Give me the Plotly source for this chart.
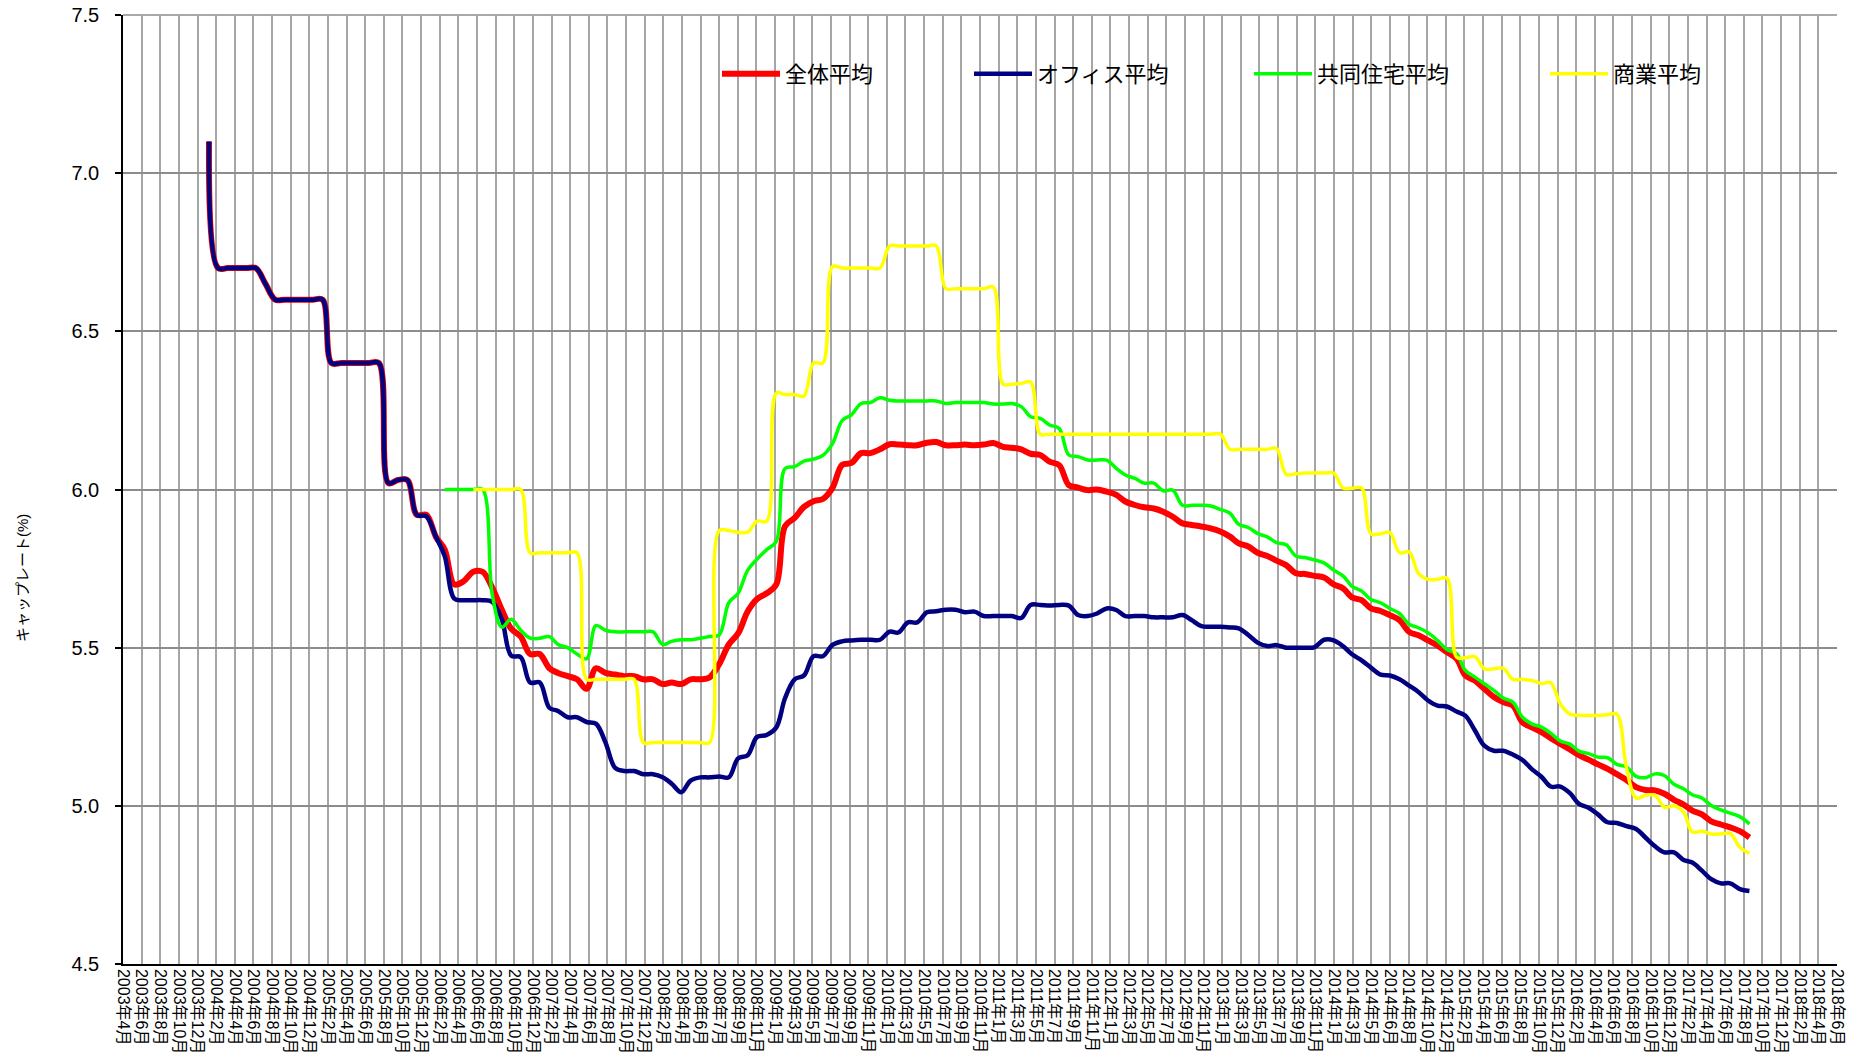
import pandas as pd
import plotly.graph_objects as go

# ---------------- data ----------------
x_labels = [
    "2003年4月", "2003年6月", "2003年8月", "2003年10月", "2003年12月",
    "2004年2月", "2004年4月", "2004年6月", "2004年8月", "2004年10月", "2004年12月",
    "2005年2月", "2005年4月", "2005年6月", "2005年8月", "2005年10月", "2005年12月",
    "2006年2月", "2006年4月", "2006年6月", "2006年8月", "2006年10月", "2006年12月",
    "2007年2月", "2007年4月", "2007年6月", "2007年8月", "2007年10月", "2007年12月",
    "2008年2月", "2008年4月", "2008年6月", "2008年7月", "2008年9月", "2008年11月",
    "2009年1月", "2009年3月", "2009年5月", "2009年7月", "2009年9月", "2009年11月",
    "2010年1月", "2010年3月", "2010年5月", "2010年7月", "2010年9月", "2010年11月",
    "2011年1月", "2011年3月", "2011年5月", "2011年7月", "2011年9月", "2011年11月",
    "2012年1月", "2012年3月", "2012年5月", "2012年7月", "2012年9月", "2012年11月",
    "2013年1月", "2013年3月", "2013年5月", "2013年7月", "2013年9月", "2013年11月",
    "2014年1月", "2014年3月", "2014年5月", "2014年6月", "2014年8月", "2014年10月", "2014年12月",
    "2015年2月", "2015年4月", "2015年6月", "2015年8月", "2015年10月", "2015年12月",
    "2016年2月", "2016年4月", "2016年6月", "2016年8月", "2016年10月", "2016年12月",
    "2017年2月", "2017年4月", "2017年6月", "2017年8月", "2017年10月", "2017年12月",
    "2018年2月", "2018年4月", "2018年6月",
]
axis_start = "2003-04-29"
axis_end = "2018-06-09"
tick_step_days = 60

y_ticks = [4.5, 5.0, 5.5, 6.0, 6.5, 7.0, 7.5]

series_names = ["全体平均", "オフィス平均", "共同住宅平均", "商業平均"]
series_colors = ["#ff0000", "#000080", "#00ff00", "#ffff00"]

# monthly values, 全体平均 from 2004-01
total_start = "2004-01-31"
total_avg = [
    7.10, 6.70, 6.70, 6.70, 6.70, 6.70, 6.65, 6.60, 6.60, 6.60,
    6.60, 6.60, 6.60, 6.40, 6.40, 6.40, 6.40, 6.40, 6.40, 6.02,
    6.03, 6.03, 5.92, 5.92, 5.85, 5.81, 5.70, 5.71, 5.74, 5.74,
    5.69, 5.62, 5.56, 5.535, 5.48, 5.48, 5.435, 5.42, 5.41, 5.40,
    5.37, 5.435, 5.42, 5.415, 5.41, 5.41, 5.40, 5.40, 5.385, 5.39,
    5.385, 5.40, 5.40, 5.406, 5.448, 5.51, 5.545, 5.615, 5.654, 5.672,
    5.70, 5.884, 5.91, 5.945, 5.963, 5.97, 6.005, 6.078, 6.084, 6.115,
    6.115, 6.127, 6.143, 6.142, 6.14, 6.14, 6.148, 6.15, 6.14, 6.14,
    6.142, 6.14, 6.142, 6.147, 6.135, 6.132, 6.127, 6.113, 6.109, 6.088,
    6.077, 6.014, 6.006, 5.998, 6.00, 5.993, 5.983, 5.962, 5.951, 5.944,
    5.94, 5.93, 5.914, 5.893, 5.888, 5.883, 5.877, 5.867, 5.851, 5.83,
    5.82, 5.80, 5.79, 5.775, 5.761, 5.735, 5.733, 5.727, 5.722, 5.70,
    5.687, 5.659, 5.65, 5.624, 5.616, 5.603, 5.587, 5.55, 5.539, 5.523,
    5.507, 5.486, 5.465, 5.412, 5.396, 5.37, 5.344, 5.328, 5.317, 5.264,
    5.248, 5.233, 5.214, 5.196, 5.178, 5.16, 5.146, 5.131, 5.117, 5.10,
    5.082, 5.059, 5.05, 5.049, 5.038, 5.019, 5.004, 4.985, 4.973, 4.951,
    4.941, 4.932, 4.92, 4.90,
]

# オフィス平均 from 2004-01
office_start = "2004-01-31"
office_avg = [
    7.10, 6.70, 6.70, 6.70, 6.70, 6.70, 6.65, 6.60, 6.60, 6.60,
    6.60, 6.60, 6.60, 6.40, 6.40, 6.40, 6.40, 6.40, 6.40, 6.02,
    6.03, 6.03, 5.92, 5.915, 5.85, 5.79, 5.655, 5.65, 5.65, 5.65,
    5.645, 5.59, 5.475, 5.47, 5.39, 5.39, 5.31, 5.30, 5.28, 5.28,
    5.265, 5.26, 5.20, 5.12, 5.11, 5.11, 5.10, 5.10, 5.09, 5.07,
    5.043, 5.08, 5.09, 5.09, 5.093, 5.09, 5.15, 5.16, 5.218, 5.224,
    5.248, 5.34, 5.40, 5.412, 5.473, 5.473, 5.509, 5.52, 5.523, 5.525,
    5.525, 5.525, 5.551, 5.548, 5.58, 5.58, 5.612, 5.615, 5.62, 5.62,
    5.612, 5.614, 5.60, 5.60, 5.60, 5.60, 5.594, 5.635, 5.635, 5.633,
    5.635, 5.633, 5.603, 5.60, 5.608, 5.624, 5.619, 5.60, 5.60, 5.60,
    5.596, 5.596, 5.596, 5.603, 5.587, 5.568, 5.566, 5.566, 5.564, 5.561,
    5.54, 5.516, 5.505, 5.508, 5.50, 5.50, 5.50, 5.502, 5.525, 5.523,
    5.504, 5.479, 5.46, 5.437, 5.415, 5.412, 5.40, 5.38, 5.36, 5.333,
    5.317, 5.314, 5.298, 5.285, 5.238, 5.19, 5.174, 5.174, 5.162, 5.145,
    5.116, 5.092, 5.061, 5.061, 5.04, 5.006, 4.994, 4.973, 4.948, 4.946,
    4.936, 4.927, 4.90, 4.872, 4.853, 4.853, 4.829, 4.821, 4.795, 4.768,
    4.755, 4.755, 4.737, 4.731,
]

# 共同住宅平均 from 2006-02
resi_start = "2006-02-28"
resi_avg = [
    6.00, 6.00, 6.00, 6.00, 6.00, 5.67, 5.565, 5.59, 5.555, 5.53,
    5.53, 5.535, 5.51, 5.50, 5.48, 5.465, 5.57, 5.555, 5.55, 5.55,
    5.55, 5.55, 5.55, 5.51, 5.52, 5.525, 5.525, 5.53, 5.535, 5.54,
    5.642, 5.672, 5.745, 5.78, 5.81, 5.836, 6.066, 6.072, 6.09, 6.096,
    6.108, 6.145, 6.218, 6.236, 6.272, 6.275, 6.29, 6.282, 6.28, 6.28,
    6.28, 6.28, 6.28, 6.272, 6.275, 6.275, 6.275, 6.275, 6.27, 6.27,
    6.272, 6.262, 6.23, 6.225, 6.204, 6.193, 6.109, 6.104, 6.093, 6.093,
    6.093, 6.067, 6.046, 6.035, 6.02, 6.02, 5.996, 5.998, 5.95, 5.95,
    5.95, 5.948, 5.937, 5.925, 5.89, 5.88, 5.861, 5.85, 5.832, 5.825,
    5.79, 5.785, 5.777, 5.768, 5.745, 5.726, 5.694, 5.679, 5.652, 5.642,
    5.624, 5.608, 5.574, 5.563, 5.547, 5.523, 5.494, 5.481, 5.428, 5.407,
    5.386, 5.365, 5.341, 5.328, 5.28, 5.259, 5.249, 5.23, 5.205, 5.195,
    5.173, 5.165, 5.154, 5.152, 5.131, 5.123, 5.093, 5.089, 5.101, 5.096,
    5.068, 5.054, 5.035, 5.025, 5.001, 4.987, 4.977, 4.966, 4.943,
]

# 商業平均 from 2006-05
retail_start = "2006-05-31"
retail_avg = [
    6.00, 6.00, 6.00, 6.00, 6.00, 6.00, 5.80, 5.80, 5.80, 5.80,
    5.80, 5.80, 5.40, 5.40, 5.40, 5.40, 5.40, 5.40, 5.20, 5.20,
    5.20, 5.20, 5.20, 5.20, 5.20, 5.20, 5.87, 5.87, 5.865, 5.865,
    5.90, 5.90, 6.305, 6.30, 6.30, 6.295, 6.40, 6.40, 6.705, 6.70,
    6.70, 6.70, 6.70, 6.70, 6.77, 6.77, 6.77, 6.77, 6.77, 6.77,
    6.635, 6.635, 6.635, 6.635, 6.635, 6.64, 6.333, 6.333, 6.335, 6.34,
    6.175, 6.175, 6.175, 6.175, 6.175, 6.175, 6.175, 6.175, 6.175, 6.175,
    6.175, 6.175, 6.175, 6.175, 6.175, 6.175, 6.175, 6.175, 6.175, 6.175,
    6.127, 6.127, 6.127, 6.127, 6.127, 6.13, 6.048, 6.05, 6.052, 6.052,
    6.052, 6.052, 6.004, 6.004, 6.005, 5.86, 5.86, 5.864, 5.80, 5.803,
    5.735, 5.716, 5.716, 5.72, 5.47, 5.468, 5.472, 5.433, 5.433, 5.435,
    5.40, 5.40, 5.396, 5.387, 5.389, 5.323, 5.29, 5.286, 5.286, 5.286,
    5.288, 5.29, 5.12, 5.025, 5.033, 5.033, 4.996, 5.00, 4.98, 4.917,
    4.92, 4.911, 4.911, 4.913, 4.869, 4.85,
]

series_values = [total_avg, office_avg, resi_avg, retail_avg]
series_starts = [total_start, office_start, resi_start, retail_start]
series_widths = [6, 4.5, 3.5, 3.5]

y_title = "キャップレート(%)"


def month_ends(start, n):
    try:
        rng = pd.date_range(start, periods=n, freq="ME")
    except ValueError:
        rng = pd.date_range(start, periods=n, freq="M")
    return rng.strftime("%Y-%m-%d").tolist()


tick_vals = [
    (pd.Timestamp(axis_start) + pd.Timedelta(days=tick_step_days * k)).strftime("%Y-%m-%d")
    for k in range(len(x_labels))
]

FONT = "Liberation Sans, Arial, Noto Sans CJK JP, sans-serif"

W, H = 1856, 1060
# plot area in page pixels: left 123, right 1837, top 15, bottom 964
ml, mt = 123, 15
mr = W - 1837
mb = H - 964
pw = W - ml - mr
ph = H - mt - mb


def px_x(page_x):
    return (page_x - ml) / pw


def px_y(page_y):
    return 1 - (page_y - mt) / ph


fig = go.Figure()
legend_ids = ["legend", "legend2", "legend3", "legend4"]
for name, vals, start, color, w, lg in zip(series_names, series_values, series_starts,
                                            series_colors, series_widths, legend_ids):
    fig.add_trace(go.Scatter(
        x=month_ends(start, len(vals)), y=vals, name=name, mode="lines",
        line=dict(color=color, width=w, shape="spline", smoothing=1.0),
        legend=lg,
    ))

legend_box_page_x = [717, 969, 1249, 1545]
legend_page_y = 74
common_leg = dict(orientation="h", xanchor="left", yanchor="middle",
                  font=dict(family=FONT, size=22, color="#000000"),
                  bgcolor="rgba(0,0,0,0)", itemwidth=58)
for lg, px in zip(legend_ids, legend_box_page_x):
    fig.update_layout({lg: dict(x=px_x(px), y=px_y(legend_page_y), **common_leg)})

fig.update_layout(
    width=W, height=H,
    margin=dict(l=ml, r=mr, t=mt, b=mb, pad=0, autoexpand=False),
    paper_bgcolor="#ffffff", plot_bgcolor="#ffffff",
    font=dict(family=FONT, color="#000000"),
    showlegend=True,
)
# top border of the plot area (gray, like the gridlines)
fig.add_shape(type="line", xref="paper", yref="paper", x0=0, x1=1, y0=1, y1=1,
              line=dict(color="#8c8c8c", width=1.5), layer="below")
fig.add_annotation(
    text=y_title, textangle=-90, showarrow=False,
    xref="paper", yref="paper", x=px_x(22), y=px_y(578),
    xanchor="center", yanchor="middle",
    font=dict(family=FONT, size=15, color="#000000"),
)
fig.update_xaxes(
    type="date", range=[axis_start, axis_end],
    tickmode="array", tickvals=tick_vals, ticktext=x_labels,
    tickangle=90, tickfont=dict(family=FONT, size=16, color="#000000"),
    showgrid=True, gridcolor="#a6a6a6", gridwidth=1.5,
    showline=True, linecolor="#000000", linewidth=1.5,
    ticks="", zeroline=False, ticklabeloverflow="allow",
)
fig.update_yaxes(
    range=[4.5, 7.5], tickmode="array", tickvals=y_ticks,
    ticktext=[f"{v:.1f}" for v in y_ticks],
    tickfont=dict(family=FONT, size=20, color="#000000"),
    showgrid=True, gridcolor="#8c8c8c", gridwidth=1.5,
    showline=True, linecolor="#000000", linewidth=1.5,
    ticks="outside", ticklen=6, tickcolor="#000000", tickwidth=1.5,
    ticklabelstandoff=12, ticklabeloverflow="allow",
    zeroline=False,
)

# the page's default 8px body margin would push the fixed-size figure off the window
fig.write_html("out.html", config={"displayModeBar": False},
               post_script="document.body.style.margin='0px';")
